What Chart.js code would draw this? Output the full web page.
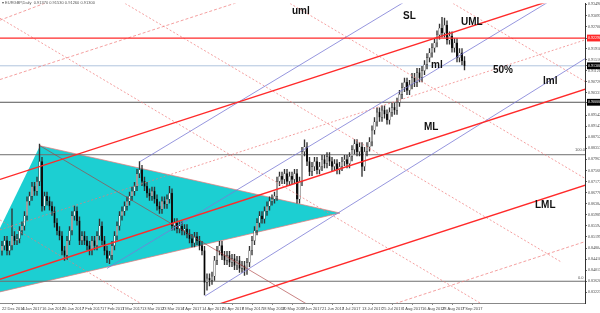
<!DOCTYPE html>
<html><head><meta charset="utf-8">
<script src="https://cdn.jsdelivr.net/npm/chart.js@4.4.0/dist/chart.umd.min.js"></script>
<style>
html,body{margin:0;padding:0;background:#fff;}
#wrap{position:relative;width:600px;height:313px;overflow:hidden;}
canvas{position:absolute;left:0;top:0;}
.lbl{position:absolute;font-family:"Liberation Sans",Arial,sans-serif;font-weight:bold;font-size:10px;color:#111;white-space:nowrap;line-height:1;}
.sm{position:absolute;font-family:"Liberation Sans",Arial,sans-serif;font-size:4px;color:#555;white-space:nowrap;line-height:1;}
</style></head>
<body><div id="wrap"><canvas id="c" width="600" height="313"></canvas>
<div class="sm" style="left:2px;top:1px;">&#9662; EURGBP,Daily&nbsp; 0.91370 0.91530 0.91260 0.91300</div>
<div class="lbl" style="left:292px;top:6px;">uml</div>
<div class="lbl" style="left:403px;top:11px;">SL</div>
<div class="lbl" style="left:461px;top:17px;">UML</div>
<div class="lbl" style="left:431px;top:60px;">ml</div>
<div class="lbl" style="left:493px;top:65px;">50%</div>
<div class="lbl" style="left:543px;top:76px;">lml</div>
<div class="lbl" style="left:424px;top:122px;">ML</div>
<div class="lbl" style="left:535px;top:200px;">LML</div>
<div class="sm" style="left:575px;top:148px;">100.0</div>
<div class="sm" style="left:578px;top:276px;">0.0</div>
</div>
<script>
// ---- data (EURGBP daily, 22 Dec 2016 .. 8 Sep 2017) ----
const opens = [0.8470,0.8489,0.8507,0.8471,0.8489,0.8524,0.8507,0.8514,0.8542,0.8559,
0.8595,0.8648,0.8665,0.8700,0.8683,0.8718,0.8789,0.8630,0.8665,0.8648,
0.8630,0.8612,0.8570,0.8542,0.8524,0.8471,0.8454,0.8507,0.8542,0.8595,
0.8612,0.8577,0.8507,0.8524,0.8507,0.8489,0.8471,0.8507,0.8489,0.8524,
0.8559,0.8507,0.8471,0.8443,0.8454,0.8489,0.8524,0.8559,0.8595,0.8612,
0.8630,0.8648,0.8665,0.8683,0.8700,0.8746,0.8760,0.8718,0.8700,0.8676,
0.8665,0.8683,0.8655,0.8630,0.8619,0.8648,0.8637,0.8655,0.8676,0.8559,
0.8570,0.8549,0.8559,0.8542,0.8549,0.8531,0.8514,0.8499,0.8521,0.8507,
0.8489,0.8471,0.8358,0.8373,0.8366,0.8380,0.8436,0.8471,0.8489,0.8454,
0.8436,0.8454,0.8429,0.8443,0.8418,0.8436,0.8408,0.8418,0.8401,0.8429,
0.8471,0.8507,0.8542,0.8570,0.8595,0.8584,0.8612,0.8630,0.8648,0.8655,
0.8665,0.8718,0.8736,0.8725,0.8746,0.8718,0.8736,0.8725,0.8746,0.8655,
0.8718,0.8824,0.8841,0.8789,0.8753,0.8771,0.8789,0.8760,0.8771,0.8796,
0.8781,0.8806,0.8789,0.8771,0.8781,0.8760,0.8771,0.8789,0.8796,0.8781,
0.8806,0.8831,0.8852,0.8824,0.8841,0.8771,0.8824,0.8841,0.8859,0.8901,
0.8930,0.8965,0.8947,0.8972,0.8958,0.8937,0.8965,0.8982,0.8972,0.9000,
0.9028,0.9053,0.9071,0.9042,0.9063,0.9088,0.9071,0.9106,0.9088,0.9113,
0.9134,0.9159,0.9176,0.9194,0.9212,0.9240,0.9264,0.9247,0.9275,0.9222,
0.9236,0.9194,0.9212,0.9159,0.9176,0.9148];
const highs = [0.8504,0.8522,0.8522,0.8504,0.8620,0.8539,0.8529,0.8557,0.8574,0.8610,
0.8663,0.8680,0.8715,0.8715,0.8733,0.8851,0.8804,0.8680,0.8680,0.8663,
0.8645,0.8627,0.8585,0.8557,0.8539,0.8486,0.8522,0.8557,0.8610,0.8630,
0.8627,0.8592,0.8539,0.8539,0.8522,0.8504,0.8522,0.8522,0.8539,0.8584,
0.8574,0.8522,0.8486,0.8469,0.8504,0.8539,0.8574,0.8610,0.8627,0.8645,
0.8663,0.8680,0.8698,0.8715,0.8761,0.8789,0.8775,0.8733,0.8715,0.8691,
0.8698,0.8698,0.8670,0.8645,0.8663,0.8663,0.8670,0.8700,0.8691,0.8585,
0.8585,0.8574,0.8574,0.8564,0.8564,0.8546,0.8529,0.8536,0.8536,0.8522,
0.8504,0.8486,0.8388,0.8388,0.8395,0.8451,0.8486,0.8504,0.8504,0.8469,
0.8469,0.8469,0.8458,0.8458,0.8451,0.8451,0.8433,0.8433,0.8444,0.8486,
0.8522,0.8557,0.8585,0.8610,0.8610,0.8627,0.8645,0.8663,0.8670,0.8680,
0.8733,0.8751,0.8751,0.8761,0.8761,0.8751,0.8751,0.8761,0.8761,0.8733,
0.8839,0.8866,0.8856,0.8804,0.8786,0.8804,0.8804,0.8786,0.8811,0.8811,
0.8821,0.8821,0.8804,0.8796,0.8796,0.8786,0.8804,0.8811,0.8811,0.8821,
0.8846,0.8867,0.8867,0.8856,0.8856,0.8839,0.8856,0.8874,0.8916,0.8945,
0.8980,0.8980,0.8987,0.8987,0.8973,0.8980,0.8997,0.8997,0.9015,0.9043,
0.9068,0.9086,0.9086,0.9078,0.9103,0.9103,0.9121,0.9121,0.9128,0.9149,
0.9174,0.9191,0.9209,0.9227,0.9255,0.9279,0.9303,0.9300,0.9290,0.9251,
0.9251,0.9227,0.9227,0.9191,0.9191,0.9163];
const lows = [0.8455,0.8474,0.8456,0.8456,0.8474,0.8492,0.8492,0.8499,0.8527,0.8544,
0.8580,0.8633,0.8650,0.8668,0.8668,0.8703,0.8612,0.8615,0.8633,0.8615,
0.8597,0.8555,0.8527,0.8509,0.8456,0.8436,0.8439,0.8492,0.8527,0.8580,
0.8562,0.8492,0.8492,0.8492,0.8474,0.8456,0.8456,0.8474,0.8474,0.8509,
0.8492,0.8456,0.8428,0.8425,0.8439,0.8474,0.8509,0.8544,0.8580,0.8597,
0.8615,0.8633,0.8650,0.8668,0.8685,0.8731,0.8703,0.8685,0.8661,0.8650,
0.8650,0.8640,0.8615,0.8604,0.8604,0.8622,0.8622,0.8640,0.8544,0.8544,
0.8534,0.8534,0.8527,0.8527,0.8516,0.8499,0.8484,0.8484,0.8492,0.8474,
0.8456,0.8313,0.8330,0.8345,0.8351,0.8365,0.8421,0.8456,0.8439,0.8421,
0.8421,0.8414,0.8414,0.8403,0.8403,0.8393,0.8393,0.8383,0.8386,0.8414,
0.8456,0.8492,0.8527,0.8555,0.8569,0.8569,0.8597,0.8615,0.8633,0.8640,
0.8650,0.8703,0.8710,0.8710,0.8703,0.8703,0.8710,0.8710,0.8640,0.8640,
0.8703,0.8809,0.8774,0.8738,0.8738,0.8756,0.8745,0.8745,0.8756,0.8766,
0.8766,0.8774,0.8756,0.8756,0.8745,0.8745,0.8756,0.8774,0.8766,0.8766,
0.8791,0.8816,0.8809,0.8809,0.8736,0.8756,0.8809,0.8826,0.8844,0.8886,
0.8915,0.8932,0.8932,0.8943,0.8922,0.8922,0.8950,0.8957,0.8957,0.8985,
0.9013,0.9038,0.9027,0.9027,0.9048,0.9056,0.9056,0.9073,0.9073,0.9098,
0.9119,0.9144,0.9161,0.9179,0.9197,0.9225,0.9232,0.9232,0.9207,0.9207,
0.9179,0.9179,0.9144,0.9144,0.9133,0.9115];
const closes = [0.8489,0.8507,0.8471,0.8489,0.8524,0.8507,0.8514,0.8542,0.8559,0.8595,
0.8648,0.8665,0.8700,0.8683,0.8718,0.8789,0.8630,0.8665,0.8648,0.8630,
0.8612,0.8570,0.8542,0.8524,0.8471,0.8454,0.8507,0.8542,0.8595,0.8612,
0.8577,0.8507,0.8524,0.8507,0.8489,0.8471,0.8507,0.8489,0.8524,0.8559,
0.8507,0.8471,0.8443,0.8454,0.8489,0.8524,0.8559,0.8595,0.8612,0.8630,
0.8648,0.8665,0.8683,0.8700,0.8746,0.8760,0.8718,0.8700,0.8676,0.8665,
0.8683,0.8655,0.8630,0.8619,0.8648,0.8637,0.8655,0.8676,0.8559,0.8570,
0.8549,0.8559,0.8542,0.8549,0.8531,0.8514,0.8499,0.8521,0.8507,0.8489,
0.8471,0.8358,0.8373,0.8366,0.8380,0.8436,0.8471,0.8489,0.8454,0.8436,
0.8454,0.8429,0.8443,0.8418,0.8436,0.8408,0.8418,0.8401,0.8429,0.8471,
0.8507,0.8542,0.8570,0.8595,0.8584,0.8612,0.8630,0.8648,0.8655,0.8665,
0.8718,0.8736,0.8725,0.8746,0.8718,0.8736,0.8725,0.8746,0.8655,0.8718,
0.8824,0.8841,0.8789,0.8753,0.8771,0.8789,0.8760,0.8771,0.8796,0.8781,
0.8806,0.8789,0.8771,0.8781,0.8760,0.8771,0.8789,0.8796,0.8781,0.8806,
0.8831,0.8852,0.8824,0.8841,0.8771,0.8824,0.8841,0.8859,0.8901,0.8930,
0.8965,0.8947,0.8972,0.8958,0.8937,0.8965,0.8982,0.8972,0.9000,0.9028,
0.9053,0.9071,0.9042,0.9063,0.9088,0.9071,0.9106,0.9088,0.9113,0.9134,
0.9159,0.9176,0.9194,0.9212,0.9240,0.9264,0.9247,0.9275,0.9222,0.9236,
0.9194,0.9212,0.9159,0.9176,0.9148,0.9130];

const dateLabels = ["22 Dec 2016","4 Jan 2017","16 Jan 2017","26 Jan 2017","7 Feb 2017","17 Feb 2017",
"1 Mar 2017","13 Mar 2017","23 Mar 2017","4 Apr 2017","14 Apr 2017","26 Apr 2017","8 May 2017",
"18 May 2017","30 May 2017","9 Jun 2017","21 Jun 2017","3 Jul 2017","13 Jul 2017","25 Jul 2017",
"4 Aug 2017","16 Aug 2017","28 Aug 2017","7 Sep 2017"];
const dateIndex = [0,8,16,24,32,40,48,56,64,72,80,88,96,104,112,120,128,136,144,152,160,168,176,184];

const priceTicks = [0.93490,0.93095,0.92700,0.91910,0.91516,0.91121,0.90726,0.90331,
0.89542,0.89147,0.88752,0.88357,0.87963,0.87568,0.87173,0.86778,0.86384,0.85989,0.85594,
0.85199,0.84804,0.84410,0.84015,0.83620,0.83225];

// horizontal levels
const resistanceLevel = 0.9229;
const bidLevel = 0.9130;
const roundLevel = 0.9000;
const fibHigh = 0.8813;
const fibLow = 0.8362;

// drawn objects: [x1(bar), price1, x2(bar), price2]
const pitchforkUML = [-0.8, 0.87251, 239.2, 0.94195];
const pitchforkML  = [-0.8, 0.83690, 239.2, 0.90635];
const pitchforkLML = [-0.8, 0.80271, 239.2, 0.87215];
const line50 = [-0.8, 0.85453, 239.2, 0.92397];
const warnUpper = [-0.8, 0.90811, 239.2, 0.97755];
const warnLower = [119.2, 0.81716, 239.2, 0.85206];
const warnTopLeft = [-0.8, 0.92926, 23.2, 0.93737];
const slantA = [-0.8, 0.85805, 59.2, 0.82633];
const slantApex = [15.2, 0.88449, 127.2, 0.82527];
const slantB = [-0.8, 0.92996, 211.2, 0.81787];
const slantC = [49.2, 0.93525, 224.0, 0.84290];
const slantD = [115.2, 0.93525, 239.2, 0.86968];
const slantE = [180.4, 0.93525, 239.2, 0.90423];
const blueUml = [55.2, 0.87885, 239.2, 0.97790];
const blueMl  = [42.0, 0.84078, 239.2, 0.94688];
const blueLml = [81.2, 0.83091, 239.2, 0.91889];
const triangleBars = [-14.8, 15.2, 135.2];
const trianglePrices = [0.82950, 0.88449, 0.86052];

// ---- build datasets ----
const seg = a => [{x:a[0], y:a[1]}, {x:a[2], y:a[3]}];
const hline = v => [{x:-5, y:v}, {x:240, y:v}];
const lineDs = (data, color, width, dash, order) => ({
  type:'line', data, borderColor:color, borderWidth:width, borderDash:dash||[],
  pointRadius:0, fill:false, tension:0, order, clip:0
});

const idx = closes.map((_, i) => i);
const wickData = idx.map(i => ({x:i, y:[lows[i], highs[i]]}));
const bodyData = idx.map(i => ({x:i, y:[opens[i], closes[i]]}));
const bodyColors = idx.map(i => closes[i] >= opens[i] ? '#f7f7f7' : '#000000');

const PINK = 'rgba(240,120,120,0.7)';
const RED = '#ff2a2a';
const BLUE = '#7b7bd6';

const datasets = [
  {type:'line', data: triangleBars.map((b,i)=>({x:b, y:trianglePrices[i]})), borderColor:'rgba(0,0,0,0)', borderWidth:0,
   backgroundColor:'#1ccfd2', fill:'+1', pointRadius:0, tension:0, order:20},
  {type:'line', data:[{x:triangleBars[0], y:trianglePrices[0]}, {x:triangleBars[2], y:trianglePrices[2]}],
   borderColor:PINK, borderWidth:1, pointRadius:0, fill:false, tension:0, order:19},
  lineDs([{x:triangleBars[1], y:trianglePrices[1]}, {x:triangleBars[2], y:trianglePrices[2]}], PINK, 1, [], 19),
  lineDs(hline(fibHigh), '#6e6e6e', 1, [], 9),
  lineDs(hline(fibLow), '#6e6e6e', 1.2, [], 9),
  lineDs(hline(roundLevel), '#555555', 1, [], 9),
  lineDs(hline(bidLevel), '#b0c4de', 1, [], 9),
  lineDs(hline(resistanceLevel), RED, 1.3, [], 2),
  {type:'bar', data:wickData, backgroundColor:'#333', borderWidth:0, barThickness:0.7, grouped:false, order:6},
  {type:'bar', data:bodyData, backgroundColor:bodyColors, borderColor:'#222', borderWidth:0.45, borderSkipped:false,
   barThickness:1.4, grouped:false, order:5},
  lineDs(seg(line50), PINK, 1, [2,2], 4),
  lineDs(seg(warnUpper), PINK, 1, [3,2], 4),
  lineDs(seg(warnLower), PINK, 1, [3,2], 4),
  lineDs(seg(warnTopLeft), PINK, 1, [3,2], 4),
  lineDs(seg(slantA), PINK, 1, [2,2], 4),
  lineDs(seg(slantApex), 'rgba(170,60,60,0.8)', 0.8, [], 4),
  lineDs(seg(slantB), PINK, 1, [2,2], 4),
  lineDs(seg(slantC), PINK, 1, [2,2], 4),
  lineDs(seg(slantD), PINK, 1, [2,2], 4),
  lineDs(seg(slantE), PINK, 1, [2,2], 4),
  lineDs(seg(blueUml), BLUE, 0.8, [], 3),
  lineDs(seg(blueMl), BLUE, 0.8, [], 3),
  lineDs(seg(blueLml), BLUE, 0.8, [], 3),
  lineDs(seg(pitchforkUML), RED, 1.4, [], 1),
  lineDs(seg(pitchforkML), RED, 1.4, [], 1),
  lineDs(seg(pitchforkLML), RED, 1.4, [], 1)
];

const markStyle = v => {
  if (Math.abs(v - resistanceLevel) < 1e-6) return {bg:'#ff2a2a', fg:'#fff'};
  if (Math.abs(v - bidLevel) < 1e-6 || Math.abs(v - roundLevel) < 1e-6) return {bg:'#000', fg:'#fff'};
  return null;
};
const allTicks = priceTicks.concat([resistanceLevel, bidLevel, roundLevel]);

new Chart(document.getElementById('c'), {
  type:'bar',
  data:{datasets},
  options:{
    responsive:false, animation:false, devicePixelRatio:1,
    layout:{padding:{left:0, right:0, top:0, bottom:0}},
    plugins:{legend:{display:false}, tooltip:{enabled:false}, title:{display:false}},
    scales:{
      x:{type:'linear', min:-0.8, max:233.2, offset:false,
         afterBuildTicks: s => { s.ticks = dateIndex.map(v => ({value:v})); },
         ticks:{autoSkip:false, maxRotation:0, align:'start', padding:1, color:'#444',
                font:{family:'Liberation Sans', size:4},
                callback: v => { const k = dateIndex.indexOf(v); return k >= 0 ? dateLabels[k] : ''; }},
         grid:{drawOnChartArea:false, tickLength:2, color:'#888'},
         border:{color:'#888', width:1},
         afterFit: s => { s.height = 10; }},
      y:{type:'linear', position:'right', min:0.82844, max:0.93525,
         afterBuildTicks: s => { s.ticks = allTicks.map(v => ({value:v})); },
         ticks:{autoSkip:false, padding:1, font:{family:'Liberation Sans Narrow', size:4},
                color: c => { const m = markStyle(c.tick.value); return m ? m.fg : '#444'; },
                showLabelBackdrop: c => !!markStyle(c.tick.value),
                backdropColor: c => { const m = markStyle(c.tick.value); return m ? m.bg : 'rgba(0,0,0,0)'; },
                backdropPadding:{top:1, bottom:1, left:1, right:2},
                callback: v => v.toFixed(5)},
         grid:{drawOnChartArea:false, tickLength:2, color:'#666'},
         border:{color:'#333', width:1},
         afterFit: s => { s.width = 15; }}
    }
  }
});
</script>
</body></html>
